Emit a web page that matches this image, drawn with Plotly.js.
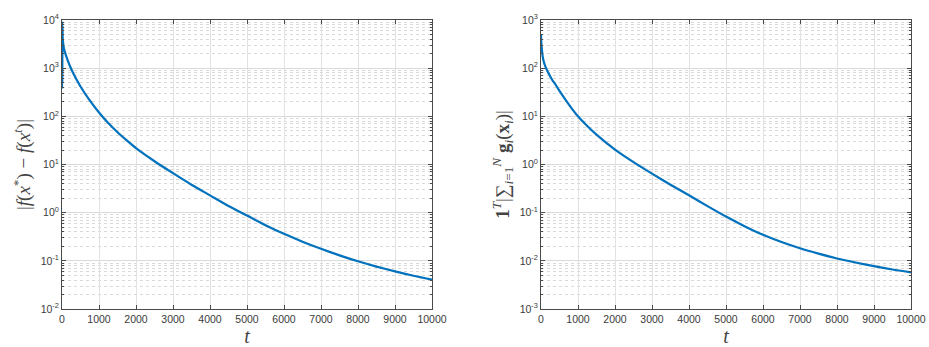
<!DOCTYPE html>
<html>
<head>
<meta charset="utf-8">
<script src="https://cdn.plot.ly/plotly-3.0.1.min.js"></script>
<style>html,body{margin:0;padding:0;background:#fff;}#chart{width:929px;height:347px;}</style>
</head>
<body>
<div id="chart"></div>
<script>
// Left panel: |f(x*) - f(x^t)| versus iteration t
const tLeft = [0, 4, 8, 12, 16, 20, 50, 100, 200, 300, 500, 750, 1000, 1250, 1500, 1750, 2000, 2500, 3000, 3500, 4000, 4500, 5000, 5500, 6000, 6500, 7000, 7500, 8000, 8500, 9000, 9500, 10000];
const fLeft = [380, 9000, 500, 7000, 4800, 4000, 2630, 1905, 1175, 794, 417, 214, 120, 72.4, 46.8, 31.6, 21.9, 11.7, 6.6, 3.8, 2.29, 1.38, 0.87, 0.55, 0.363, 0.25, 0.178, 0.13, 0.0977, 0.0759, 0.0603, 0.049, 0.0407];

// Right panel: 1^T |sum g_i(x_i)| versus iteration t
const tRight = [0, 10, 25, 50, 80, 125, 200, 300, 400, 500, 750, 1000, 1250, 1500, 2000, 2500, 3000, 3500, 4000, 4500, 5000, 5500, 6000, 6500, 7000, 7500, 8000, 8500, 9000, 9500, 10000];
const gRight = [500, 316, 240, 166, 132, 105, 79, 57.5, 44.7, 33.9, 17.8, 10, 6.3, 4.17, 2.04, 1.12, 0.646, 0.38, 0.229, 0.137, 0.083, 0.0525, 0.0347, 0.0245, 0.0182, 0.0141, 0.0112, 0.00923, 0.00776, 0.0066, 0.00575];

const xTicks = [0, 1000, 2000, 3000, 4000, 5000, 6000, 7000, 8000, 9000, 10000];
const leftExps = [-2, -1, 0, 1, 2, 3, 4];
const rightExps = [-3, -2, -1, 0, 1, 2, 3];

function decadeTicks(exps) {
  return {
    vals: exps.map(e => Math.pow(10, e)),
    text: exps.map(e => '10<sup>' + e + '</sup>')
  };
}
function minorTicks(exps) {
  const out = [];
  for (let i = 0; i < exps.length - 1; i++) {
    for (let k = 2; k <= 9; k++) out.push(k * Math.pow(10, exps[i]));
  }
  return out;
}

const lineColor = '#0072BD';
const axisCol = '#4a4a4a';
const tickFont = {family: 'Liberation Sans, Arial, sans-serif', size: 10.5, color: '#3a3a3a'};
const titleFont = {family: 'Liberation Serif, DejaVu Serif, serif', size: 19, color: '#444'};

function xAxis(domain, anchor) {
  return {
    domain: domain, anchor: anchor, range: [0, 10000],
    tickmode: 'array', tickvals: xTicks, ticktext: xTicks.map(String),
    ticks: 'inside', ticklen: 4, tickcolor: axisCol, tickwidth: 1,
    showline: true, linecolor: axisCol, linewidth: 1, mirror: 'ticks',
    showgrid: true, gridcolor: '#e2e2e2', gridwidth: 1,
    zeroline: false, tickfont: tickFont, automargin: false,
    title: {text: '<i>t</i>', font: {family: 'Liberation Serif, serif', size: 20, color: '#444'}, standoff: 3}
  };
}
function yAxis(domain, anchor, exps, titleText) {
  const dt = decadeTicks(exps);
  return {
    domain: domain, anchor: anchor, type: 'log',
    range: [exps[0], exps[exps.length - 1]],
    tickmode: 'array', tickvals: dt.vals, ticktext: dt.text,
    ticks: 'inside', ticklen: 4, tickcolor: axisCol, tickwidth: 1,
    showline: true, linecolor: axisCol, linewidth: 1, mirror: 'ticks',
    showgrid: true, gridcolor: '#dadada', gridwidth: 1,
    minor: {tickmode: 'array', tickvals: minorTicks(exps), ticks: 'inside', ticklen: 2,
            tickcolor: axisCol, showgrid: true, gridcolor: '#d9d9d9', griddash: 'dot', gridwidth: 1},
    zeroline: false, tickfont: tickFont, automargin: false,
    title: {text: titleText, font: titleFont, standoff: 5}
  };
}

const traces = [
  {x: tLeft, y: fLeft, xaxis: 'x', yaxis: 'y', type: 'scatter', mode: 'lines',
   line: {color: lineColor, width: 2.2, shape: 'spline', smoothing: 0.6}, hoverinfo: 'x+y'},
  {x: tRight, y: gRight, xaxis: 'x2', yaxis: 'y2', type: 'scatter', mode: 'lines',
   line: {color: lineColor, width: 2.2, shape: 'spline', smoothing: 0.6}, hoverinfo: 'x+y'}
];

const yDom = [1 - 309 / 347, 1 - 20 / 347];
const layout = {
  width: 929, height: 347,
  margin: {l: 0, r: 0, t: 0, b: 0},
  paper_bgcolor: '#ffffff', plot_bgcolor: '#ffffff',
  showlegend: false,
  xaxis: xAxis([62 / 929, 432 / 929], 'y'),
  yaxis: yAxis(yDom, 'x', leftExps,
    '|<i>f</i>(<i>x</i><sup>*</sup>) − <i>f</i>(<i>x</i><sup><i>t</i></sup>)|'),
  xaxis2: xAxis([541 / 929, 911 / 929], 'y2'),
  yaxis2: yAxis(yDom, 'x2', rightExps,
    '<b>1</b><sup><i>T</i></sup>|∑<sub><i>i</i>=1</sub><sup><i>N</i></sup> <b>g</b><sub><i>i</i></sub>(<b>x</b><sub><i>i</i></sub>)|')
};

Plotly.newPlot('chart', traces, layout, {displayModeBar: false, staticPlot: true});
</script>
</body>
</html>
